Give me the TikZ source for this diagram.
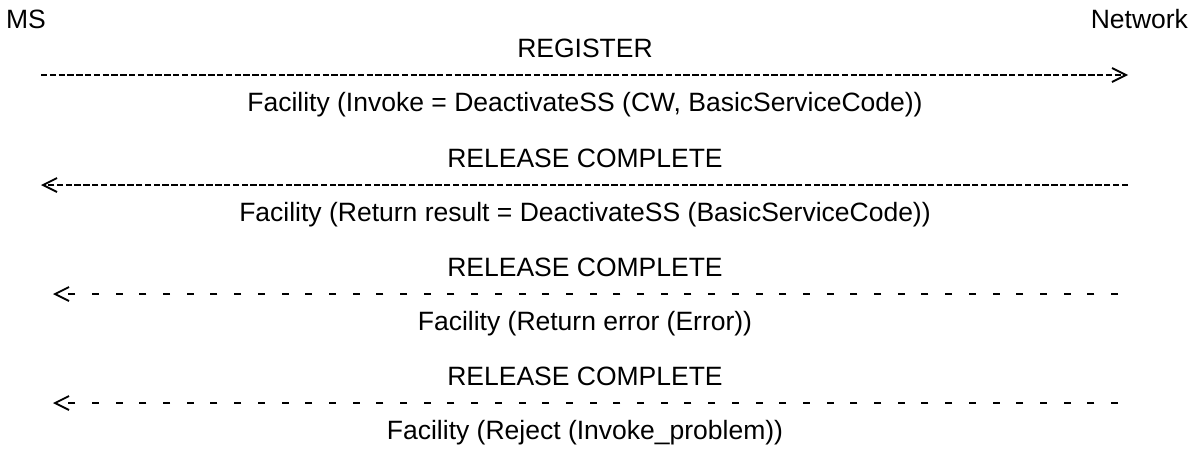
\documentclass[tikz,border=0pt]{standalone}
\usepackage{fontspec}
\setmainfont{Liberation Sans}
\usetikzlibrary{arrows.meta}
\tikzset{%
   msg/.style={inner sep=0pt, outer sep=0pt, anchor=base, font=\fontsize{26.5}{30}\selectfont},
   densemsg/.style={line width=2.6pt, dash pattern=on 6.4pt off 2.4pt},
   gapmsg/.style={line width=2.6pt, dash pattern=on 7pt off 16.7pt},
   ascii/.tip={Straight Barb[length=14pt, width=14pt, line width=1.8pt]},
}

\begin{document}
\begin{tikzpicture}[x=1pt, y=1pt]
   \useasboundingbox (0,0) rectangle (1197,-448);
   \node[msg, anchor=base west] (MS) at (6,-28) {MS};
   \node[msg, anchor=base east] (Net) at (1188,-28) {Network};
   % invoke
   \coordinate (ms1) at (41,-75);
   \coordinate (net1) at (1128,-75);
   \node[msg] (reg) at (585,-57) {REGISTER};
   \draw[densemsg, -ascii] (ms1) -- (net1);
   \node[msg] (fac1) at (585,-111) {Facility (Invoke = DeactivateSS (CW, BasicServiceCode))};
   % return result
   \coordinate (ms2) at (41,-185);
   \coordinate (net2) at (1128,-185);
   \node[msg] (rel2) at (585,-167) {RELEASE COMPLETE};
   \draw[densemsg, -ascii] (net2) -- (ms2);
   \node[msg] (fac2) at (585,-221) {Facility (Return result = DeactivateSS (BasicServiceCode))};
   % return error
   \coordinate (ms3) at (53,-294);
   \coordinate (net3) at (1118,-294);
   \node[msg] (rel3) at (585,-276) {RELEASE COMPLETE};
   \draw[gapmsg, -ascii] (net3) -- (ms3);
   \node[msg] (fac3) at (585,-330) {Facility (Return error (Error))};
   % reject
   \coordinate (ms4) at (53,-403);
   \coordinate (net4) at (1118,-403);
   \node[msg] (rel4) at (585,-385) {RELEASE COMPLETE};
   \draw[gapmsg, -ascii] (net4) -- (ms4);
   \node[msg] (fac4) at (585,-439) {Facility (Reject (Invoke\_problem))};
\end{tikzpicture}
\end{document}
